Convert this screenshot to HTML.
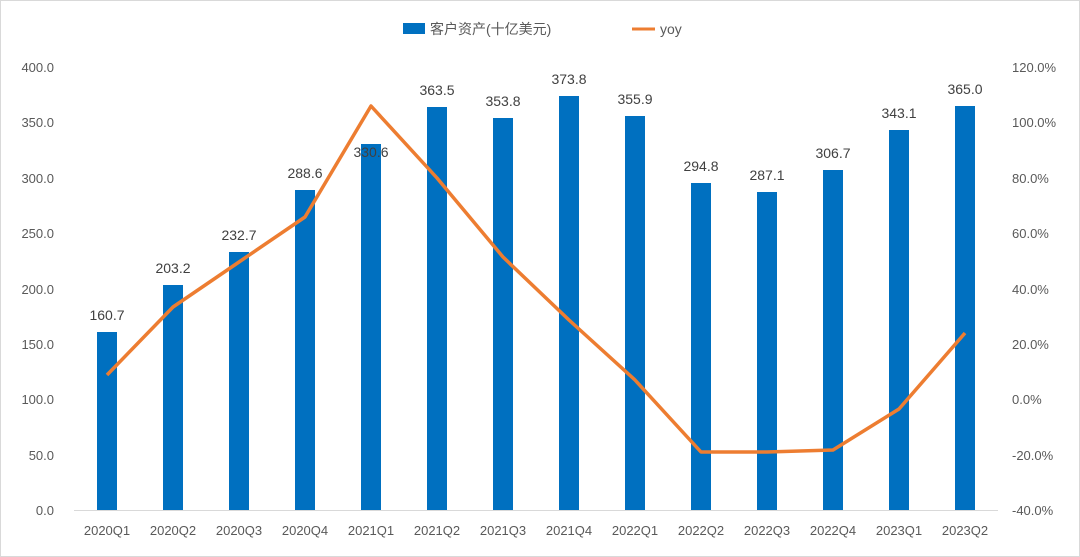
<!DOCTYPE html>
<html><head><meta charset="utf-8"><style>
body{margin:0;background:#fff}
svg{display:block;font-family:"Liberation Sans","Noto Sans CJK SC",sans-serif}
</style></head><body>
<svg width="1080" height="557" viewBox="0 0 1080 557">
<rect x="0.5" y="0.5" width="1079" height="556" fill="#fff" stroke="#d9d9d9"/>
<!-- legend -->
<rect x="403" y="23" width="22" height="11" fill="#0070C0"/>
<text x="430" y="34" font-size="14" fill="#595959">客户资产(十亿美元)</text>
<line x1="632" y1="29" x2="655" y2="29" stroke="#ED7D31" stroke-width="3"/>
<text x="660" y="34" font-size="14" fill="#595959">yoy</text>
<line x1="74" y1="510.5" x2="998" y2="510.5" stroke="#d9d9d9"/>
<g font-size="13" fill="#595959" text-anchor="end">
<text x="54" y="515">0.0</text><text x="54" y="460">50.0</text><text x="54" y="404">100.0</text>
<text x="54" y="349">150.0</text><text x="54" y="294">200.0</text><text x="54" y="238">250.0</text>
<text x="54" y="183">300.0</text><text x="54" y="127">350.0</text><text x="54" y="72">400.0</text>
</g>
<g font-size="13" fill="#595959" text-anchor="start">
<text x="1012" y="515">-40.0%</text><text x="1012" y="460">-20.0%</text><text x="1012" y="404">0.0%</text>
<text x="1012" y="349">20.0%</text><text x="1012" y="294">40.0%</text><text x="1012" y="238">60.0%</text>
<text x="1012" y="183">80.0%</text><text x="1012" y="127">100.0%</text><text x="1012" y="72">120.0%</text>
</g>
<g fill="#0070C0">
<rect x="97" y="332" width="20" height="178"/>
<rect x="163" y="285" width="20" height="225"/>
<rect x="229" y="252" width="20" height="258"/>
<rect x="295" y="190" width="20" height="320"/>
<rect x="361" y="144" width="20" height="366"/>
<rect x="427" y="107" width="20" height="403"/>
<rect x="493" y="118" width="20" height="392"/>
<rect x="559" y="96" width="20" height="414"/>
<rect x="625" y="116" width="20" height="394"/>
<rect x="691" y="183" width="20" height="327"/>
<rect x="757" y="192" width="20" height="318"/>
<rect x="823" y="170" width="20" height="340"/>
<rect x="889" y="130" width="20" height="380"/>
<rect x="955" y="106" width="20" height="404"/>
</g>
<polyline fill="none" stroke="#ED7D31" stroke-width="3.5" stroke-linejoin="round" points="107,375 173,307 239,262 305,217 371,106 437,178 503,257 569,320 635,380 701,452 767,452 833,450 899,409 965,333"/>
<g font-size="14" fill="#404040" text-anchor="middle">
<text x="107" y="320">160.7</text><text x="173" y="273">203.2</text><text x="239" y="240">232.7</text>
<text x="305" y="178">288.6</text><text x="371" y="157">330.6</text><text x="437" y="95">363.5</text>
<text x="503" y="106">353.8</text><text x="569" y="84">373.8</text><text x="635" y="104">355.9</text>
<text x="701" y="171">294.8</text><text x="767" y="180">287.1</text><text x="833" y="158">306.7</text>
<text x="899" y="118">343.1</text><text x="965" y="94">365.0</text>
</g>
<g font-size="13" fill="#595959" text-anchor="middle">
<text x="107" y="535">2020Q1</text><text x="173" y="535">2020Q2</text><text x="239" y="535">2020Q3</text>
<text x="305" y="535">2020Q4</text><text x="371" y="535">2021Q1</text><text x="437" y="535">2021Q2</text>
<text x="503" y="535">2021Q3</text><text x="569" y="535">2021Q4</text><text x="635" y="535">2022Q1</text>
<text x="701" y="535">2022Q2</text><text x="767" y="535">2022Q3</text><text x="833" y="535">2022Q4</text>
<text x="899" y="535">2023Q1</text><text x="965" y="535">2023Q2</text>
</g>
</svg>
</body></html>
